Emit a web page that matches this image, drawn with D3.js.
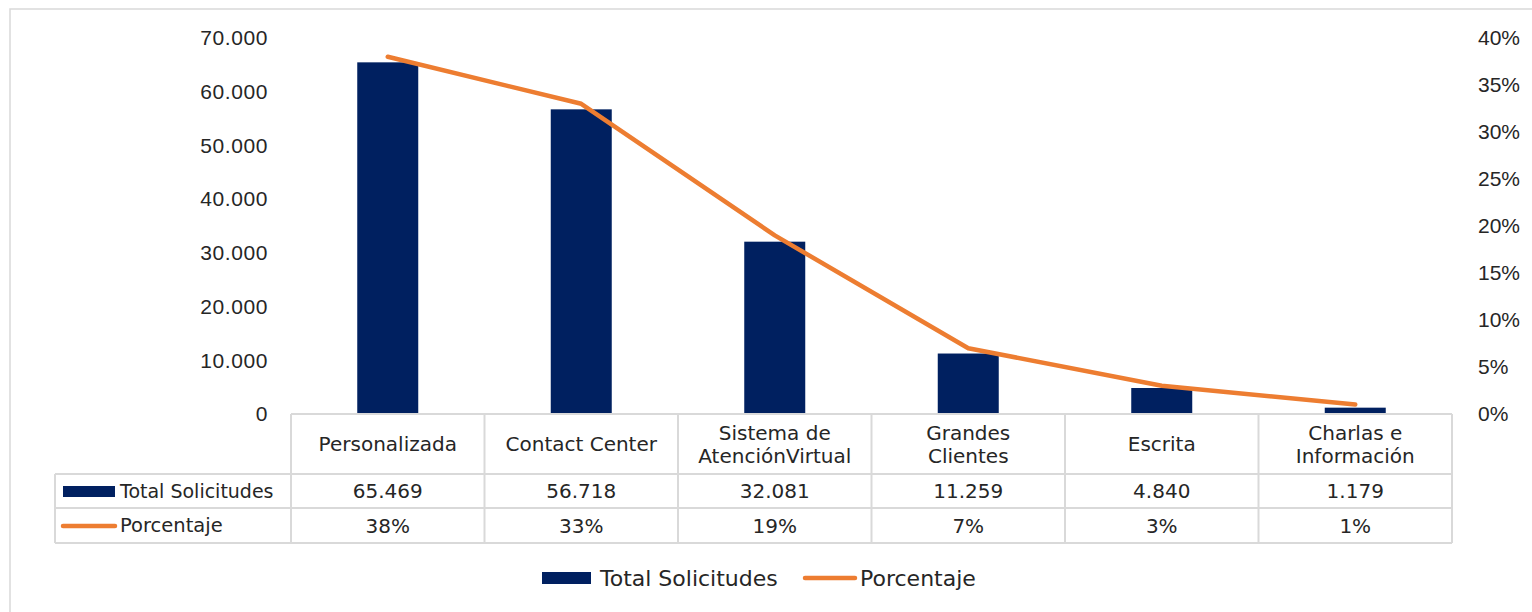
<!DOCTYPE html>
<html><head><meta charset="utf-8">
<script src="https://cdn.jsdelivr.net/npm/d3@7"></script>
<style>
body{margin:0;background:#fff;}
svg{display:block;font-family:"DejaVu Sans","Noto Sans",sans-serif;}
</style></head>
<body>
<svg id="c" width="1532" height="612"></svg>
<script>
const categories = [["Personalizada"],["Contact Center"],["Sistema de","AtenciónVirtual"],["Grandes","Clientes"],["Escrita"],["Charlas e","Información"]];
const totals = [65469, 56718, 32081, 11259, 4840, 1179];
const totalLabels = ["65.469","56.718","32.081","11.259","4.840","1.179"];
const pct = [0.38, 0.33, 0.19, 0.07, 0.03, 0.01];
const pctLabels = ["38%","33%","19%","7%","3%","1%"];
const leftTicks = [0,10000,20000,30000,40000,50000,60000,70000];
const rightTicks = [0,0.05,0.10,0.15,0.20,0.25,0.30,0.35,0.40];

const navy = "#002060", orange = "#ED7D31", grid = "#D9D9D9", txt = "#262626";
const svg = d3.select("#c");
svg.append("rect").attr("x",10).attr("y",9).attr("width",1540).attr("height",620)
  .attr("fill","#fff").attr("stroke","#D9D9D9").attr("stroke-width",1.5);

const x0 = 291, x1 = 1452, yTop = 38, yBase = 414;
const x = d3.scaleBand().domain(d3.range(categories.length)).range([x0,x1]).paddingInner(0).paddingOuter(0);
const y = d3.scaleLinear().domain([0,70000]).range([yBase,yTop]);
const y2 = d3.scaleLinear().domain([0,0.40]).range([yBase,yTop]);
const fmt = d => d3.format(",")(d).replace(/,/g,".");

// left axis
const la = svg.append("g").attr("transform",`translate(${x0},0)`)
  .call(d3.axisLeft(y).tickValues(leftTicks).tickFormat(fmt).tickSize(0).tickPadding(23));
la.select(".domain").remove();
la.selectAll("text").attr("font-size",21).attr("letter-spacing",0.6).attr("fill",txt).style("font-family","inherit");

// right axis
const ra = svg.append("g").attr("transform",`translate(${x1},0)`)
  .call(d3.axisRight(y2).tickValues(rightTicks).tickFormat(d3.format(".0%")).tickSize(0).tickPadding(26));
ra.select(".domain").remove();
ra.selectAll("text").attr("font-size",21).attr("fill",txt).style("font-family","inherit");

// bars
const bw = 61;
svg.append("g").selectAll("rect").data(totals).join("rect")
  .attr("x",(d,i)=>x(i)+x.bandwidth()/2-bw/2).attr("width",bw)
  .attr("y",d=>y(d)).attr("height",d=>yBase-y(d)).attr("fill",navy);

// line
const line = d3.line().x((d,i)=>x(i)+x.bandwidth()/2).y(d=>y2(d));
svg.append("path").datum(pct).attr("d",line).attr("fill","none")
  .attr("stroke",orange).attr("stroke-width",4.5).attr("stroke-linecap","round").attr("stroke-linejoin","round");

// data table
const tL = 55, rH = yBase, r1 = 474, r2 = 508, r3 = 543;
const tg = svg.append("g").attr("stroke",grid).attr("stroke-width",2).attr("fill","none");
tg.append("line").attr("x1",x0).attr("x2",x1).attr("y1",rH).attr("y2",rH);
tg.append("line").attr("x1",tL).attr("x2",x1).attr("y1",r1).attr("y2",r1);
tg.append("line").attr("x1",tL).attr("x2",x1).attr("y1",r2).attr("y2",r2);
tg.append("line").attr("x1",tL).attr("x2",x1).attr("y1",r3).attr("y2",r3);
tg.append("line").attr("x1",tL).attr("x2",tL).attr("y1",r1).attr("y2",r3);
d3.range(categories.length+1).forEach(i=>{
  const xx = i<categories.length ? x(i) : x1;
  tg.append("line").attr("x1",xx).attr("x2",xx).attr("y1",rH).attr("y2",r3);
});

const tt = svg.append("g").attr("fill",txt).attr("font-size",20).attr("text-anchor","middle");
categories.forEach((lines,i)=>{
  const cx = x(i)+x.bandwidth()/2, cy=(rH+r1)/2;
  const n = lines.length;
  lines.forEach((s,j)=>{
    tt.append("text").attr("x",cx).attr("y",cy+(j-(n-1)/2)*23).attr("dy","0.35em").text(s);
  });
  tt.append("text").attr("x",cx).attr("y",(r1+r2)/2).attr("dy","0.35em").text(totalLabels[i]);
  tt.append("text").attr("x",cx).attr("y",(r2+r3)/2).attr("dy","0.35em").text(pctLabels[i]);
});
// row keys
svg.append("rect").attr("x",63).attr("y",486).attr("width",52).attr("height",11).attr("fill",navy);
svg.append("text").attr("x",120).attr("y",(r1+r2)/2).attr("dy","0.35em").attr("font-size",19).attr("fill",txt).text("Total Solicitudes");
svg.append("line").attr("x1",63).attr("x2",115).attr("y1",526).attr("y2",526).attr("stroke",orange).attr("stroke-width",4.5).attr("stroke-linecap","round");
svg.append("text").attr("x",120).attr("y",(r2+r3)/2).attr("dy","0.35em").attr("font-size",19.5).attr("fill",txt).text("Porcentaje");

// legend
const lg = svg.append("g");
lg.append("rect").attr("x",542).attr("y",572).attr("width",49).attr("height",12).attr("fill",navy);
lg.append("text").attr("x",600).attr("y",578).attr("dy","0.35em").attr("font-size",22).attr("fill",txt).text("Total Solicitudes");
lg.append("line").attr("x1",805).attr("x2",855).attr("y1",578).attr("y2",578).attr("stroke",orange).attr("stroke-width",4.5).attr("stroke-linecap","round");
lg.append("text").attr("x",860).attr("y",578).attr("dy","0.35em").attr("font-size",22).attr("fill",txt).text("Porcentaje");
</script>
</body></html>
